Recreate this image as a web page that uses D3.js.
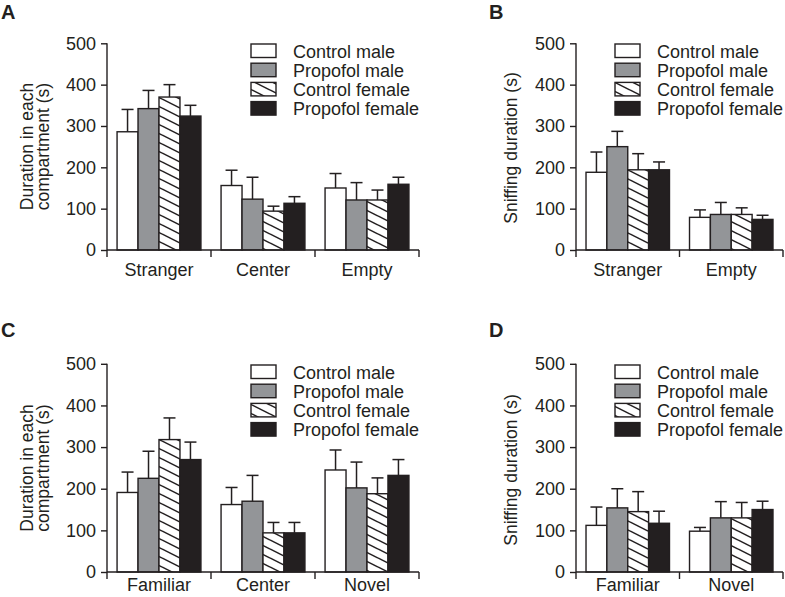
<!DOCTYPE html>
<html><head><meta charset="utf-8">
<script src="https://cdn.jsdelivr.net/npm/d3@7"></script>
<style>
body{margin:0;background:#fff}
svg{display:block}
text{font-family:"Liberation Sans",Arial,Helvetica,sans-serif;fill:#231f20}
</style>
</head><body>
<svg id="c" width="785" height="597"></svg>
<script>
// ---- data ----
const seriesNames = ["Control male", "Propofol male", "Control female", "Propofol female"];
const yTicks = [0, 100, 200, 300, 400, 500];

// Panel A
const catsA = ["Stranger", "Center", "Empty"];
const meanA_controlMale    = [286, 156, 150];
const meanA_propofolMale   = [342, 123, 121];
const meanA_controlFemale  = [370, 94, 121];
const meanA_propofolFemale = [324, 113, 159];
const errA_controlMale     = [54, 37, 35];
const errA_propofolMale    = [44, 53, 42];
const errA_controlFemale   = [30, 12, 24];
const errA_propofolFemale  = [26, 16, 17];

// Panel B
const catsB = ["Stranger", "Empty"];
const meanB_controlMale    = [188, 79];
const meanB_propofolMale   = [250, 86];
const meanB_controlFemale  = [194, 86];
const meanB_propofolFemale = [194, 74];
const errB_controlMale     = [49, 18];
const errB_propofolMale    = [37, 29];
const errB_controlFemale   = [39, 16];
const errB_propofolFemale  = [19, 10];

// Panel C
const catsC = ["Familiar", "Center", "Novel"];
const meanC_controlMale    = [191, 162, 245];
const meanC_propofolMale   = [225, 170, 202];
const meanC_controlFemale  = [318, 94, 188];
const meanC_propofolFemale = [270, 94, 232];
const errC_controlMale     = [49, 41, 48];
const errC_propofolMale    = [65, 62, 62];
const errC_controlFemale   = [52, 25, 38];
const errC_propofolFemale  = [42, 25, 38];

// Panel D
const catsD = ["Familiar", "Novel"];
const meanD_controlMale    = [112, 98];
const meanD_propofolMale   = [154, 130];
const meanD_controlFemale  = [145, 130];
const meanD_propofolFemale = [117, 150];
const errD_controlMale     = [44, 9];
const errD_propofolMale    = [46, 39];
const errD_controlFemale   = [48, 37];
const errD_propofolFemale  = [29, 20];

// ---- drawing ----
const INK = "#231f20";
const svg = d3.select("#c");
const defs = svg.append("defs");
const pat = defs.append("pattern").attr("id", "hatch")
  .attr("patternUnits", "userSpaceOnUse").attr("width", 18).attr("height", 9);
pat.append("rect").attr("width", 18).attr("height", 9).attr("fill", "#fff");
[-9, 0, 9].forEach(o => pat.append("line")
  .attr("x1", 0).attr("y1", o).attr("x2", 18).attr("y2", o + 9)
  .attr("stroke", INK).attr("stroke-width", 1.5));

const fills = ["#ffffff", "#939598", "url(#hatch)", INK];

function drawPanel(cfg) {
  const g = svg.append("g");
  const x0 = d3.scaleBand().domain(cfg.cats).range(cfg.xRange).padding(0);
  const x1 = d3.scaleBand().domain(seriesNames).range([0, x0.bandwidth()])
    .paddingInner(0).paddingOuter(0.48);
  const y = d3.scaleLinear().domain([0, 500]).range(cfg.yRange);

  // bars
  cfg.series.forEach((s, si) => {
    const bg = g.append("g");
    bg.selectAll("rect").data(cfg.cats).join("rect")
      .attr("x", c => x0(c) + x1(seriesNames[si]))
      .attr("y", (c, i) => y(s.mean[i]))
      .attr("width", x1.bandwidth())
      .attr("height", (c, i) => y(0) - y(s.mean[i]))
      .attr("fill", fills[si]).attr("stroke", INK).attr("stroke-width", 1.4);
  });
  // error bars
  cfg.series.forEach((s, si) => {
    const eg = g.append("g").attr("stroke", INK).attr("stroke-width", 1.5);
    cfg.cats.forEach((c, i) => {
      const cx = x0(c) + x1(seriesNames[si]) + x1.bandwidth() / 2;
      eg.append("line").attr("x1", cx).attr("x2", cx)
        .attr("y1", y(s.mean[i])).attr("y2", y(s.mean[i] + s.err[i]));
      eg.append("line").attr("x1", cx - 6).attr("x2", cx + 6)
        .attr("y1", y(s.mean[i] + s.err[i])).attr("y2", y(s.mean[i] + s.err[i]));
    });
  });

  // y axis
  const ya = g.append("g").attr("transform", `translate(${cfg.xRange[0]},0)`)
    .call(d3.axisLeft(y).tickValues(yTicks).tickSize(6).tickSizeOuter(0).tickPadding(5));
  ya.attr("font-size", null).attr("font-family", null);
  ya.select(".domain").remove();
  ya.selectAll(".tick line").attr("stroke", INK).attr("stroke-width", 1.4);
  ya.selectAll(".tick text").attr("font-size", 18).attr("fill", INK);
  g.append("line").attr("x1", cfg.xRange[0]).attr("x2", cfg.xRange[0])
    .attr("y1", y(500)).attr("y2", y(0) + 7)
    .attr("stroke", INK).attr("stroke-width", 1.4);

  // x axis
  g.append("line").attr("x1", cfg.xRange[0]).attr("x2", cfg.xRange[1])
    .attr("y1", y(0)).attr("y2", y(0)).attr("stroke", INK).attr("stroke-width", 1.4);
  const bounds = cfg.cats.map(c => x0(c)).concat([x0(cfg.cats[cfg.cats.length - 1]) + x0.bandwidth()]);
  g.selectAll(".xt").data(bounds.slice(1)).join("line")
    .attr("x1", d => d).attr("x2", d => d).attr("y1", y(0)).attr("y2", y(0) + 7)
    .attr("stroke", INK).attr("stroke-width", 1.4);
  g.selectAll(".xl").data(cfg.cats).join("text")
    .attr("x", c => x0(c) + x0.bandwidth() / 2).attr("y", cfg.xLabelY)
    .attr("text-anchor", "middle").attr("font-size", 18).text(c => c);

  // y label
  cfg.ylabel.forEach((t, i) => {
    g.append("text")
      .attr("transform", `translate(${cfg.ylabelX[i]},${cfg.ylabelY}) rotate(-90)`)
      .attr("text-anchor", "middle").attr("font-size", 17.5).text(t);
  });

  // panel letter
  g.append("text").attr("x", cfg.letterPos[0]).attr("y", cfg.letterPos[1])
    .attr("font-size", 20).attr("font-weight", "bold").text(cfg.letter);

  // legend
  const lg = g.append("g");
  seriesNames.forEach((n, i) => {
    const ty = cfg.legendY + i * 19.2;
    lg.append("rect").attr("x", cfg.legendX).attr("y", ty)
      .attr("width", 25).attr("height", 13.5)
      .attr("fill", fills[i]).attr("stroke", INK).attr("stroke-width", 1.4);
    lg.append("text").attr("x", cfg.legendX + 42).attr("y", ty + 13.5)
      .attr("font-size", 18).text(n);
  });
}

function mk(m, e) { return m.map((mm, i) => ({ mean: mm, err: e[i] })); }

drawPanel({
  cats: catsA, xRange: [107, 419], yRange: [250, 43.3], xLabelY: 276,
  series: mk([meanA_controlMale, meanA_propofolMale, meanA_controlFemale, meanA_propofolFemale],
             [errA_controlMale, errA_propofolMale, errA_controlFemale, errA_propofolFemale]),
  ylabel: ["Duration in each", "compartment (s)"], ylabelX: [32.5, 49], ylabelY: 146.5,
  letter: "A", letterPos: [1, 19], legendX: 251, legendY: 44
});
drawPanel({
  cats: catsB, xRange: [576, 783], yRange: [250, 43.3], xLabelY: 276,
  series: mk([meanB_controlMale, meanB_propofolMale, meanB_controlFemale, meanB_propofolFemale],
             [errB_controlMale, errB_propofolMale, errB_controlFemale, errB_propofolFemale]),
  ylabel: ["Sniffing duration (s)"], ylabelX: [517], ylabelY: 148,
  letter: "B", letterPos: [489, 19], legendX: 615, legendY: 44
});
drawPanel({
  cats: catsC, xRange: [107, 419], yRange: [572, 363.8], xLabelY: 591,
  series: mk([meanC_controlMale, meanC_propofolMale, meanC_controlFemale, meanC_propofolFemale],
             [errC_controlMale, errC_propofolMale, errC_controlFemale, errC_propofolFemale]),
  ylabel: ["Duration in each", "compartment (s)"], ylabelX: [32.5, 49], ylabelY: 468,
  letter: "C", letterPos: [1, 337], legendX: 251, legendY: 365
});
drawPanel({
  cats: catsD, xRange: [576, 783], yRange: [572, 363.8], xLabelY: 591,
  series: mk([meanD_controlMale, meanD_propofolMale, meanD_controlFemale, meanD_propofolFemale],
             [errD_controlMale, errD_propofolMale, errD_controlFemale, errD_propofolFemale]),
  ylabel: ["Sniffing duration (s)"], ylabelX: [517], ylabelY: 470,
  letter: "D", letterPos: [489, 337], legendX: 615, legendY: 365
});
</script>
</body></html>
